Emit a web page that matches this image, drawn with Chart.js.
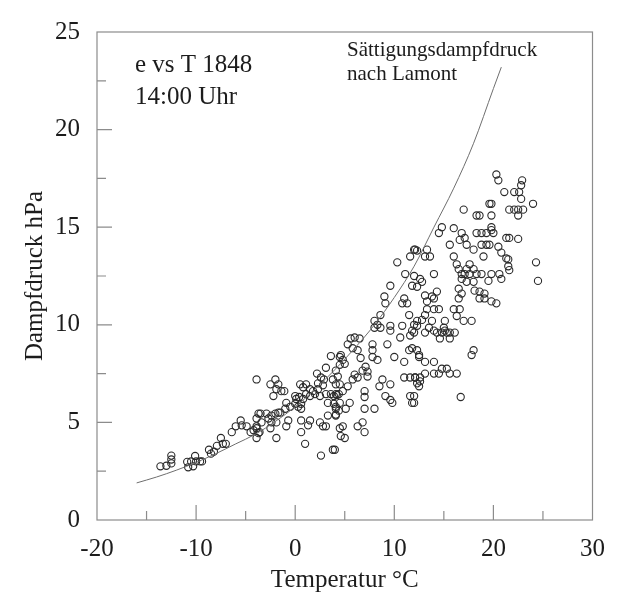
<!DOCTYPE html>
<html>
<head>
<meta charset="utf-8">
<script src="https://cdn.jsdelivr.net/npm/chart.js@4.4.0/dist/chart.umd.min.js"></script>
<style>
  html, body { margin: 0; padding: 0; background: #fff; }
  #wrap { width: 619px; height: 599px; }
</style>
</head>
<body>
<div id="wrap"><canvas id="chart" width="619" height="599"></canvas></div>
<script>
// axis ticks
const xTicks = [-20, -10, 0, 10, 20, 30];
const yTicks = [0, 5, 10, 15, 20, 25];
const xMinor = [-15, -5, 5, 15, 25];
const yMinor = [2.5, 7.5, 12.5, 17.5, 22.5];

// Saettigungsdampfdruck nach Lamont
const curveT = [-16, -14, -12, -10, -8, -6, -4, -2, 0, 2, 4, 6, 8, 10, 12, 14, 16, 18, 20, 20.8];
const curveE = [1.9, 2.2, 2.55, 2.95, 3.4, 3.9, 4.4, 5.05, 5.8, 6.7, 7.7, 8.8, 10.0, 11.4, 13.0, 15.0, 17.0, 19.3, 22.1, 23.2];

// observations 14:00 Uhr, 1848: temperature (°C)
const obsT = [
  -13.6, -13.0, -12.5, -12.5, -12.5, -10.9, -10.5, -10.1, -10.0, -9.6, -10.8, -10.3, -9.4, -8.7, -8.5, -8.2,
  -7.9, -7.5, -7.3, -7.0, -6.4, -6.0, -5.5, -5.4, -4.9, -4.5, -4.2, -3.9, -3.7, -3.9, -3.6, -3.9,
  3.6, 4.5, 3.1, 2.2, 2.6, 2.9, 2.3, 2.8, 3.8, 4.3, 4.1,
  -2.5, -2.0, -1.7, -1.9, -1.4, -1.1, -2.2,
  0.5, 0.8, 1.1, 1.5, 1.8, 2.3,
  0.0, 0.1, 0.4, 0.8, 0.6, 0.3, 0.6, 0.0,
  1.1, 1.5, 2.0, 2.5, 3.1, 3.6, 3.9, 4.4,
  3.3, 3.9, 4.5, 4.1, 4.4, -0.9, -0.5, -1.0,
  -1.7, -2.0, -2.4, -2.7, -2.9, -1.5, -3.5, -3.9, -3.4, -3.9, -3.7,
  -2.4, -1.9, -2.5, -0.7, -0.9, 0.6, 1.5, 1.3,
  0.6, 2.5, 2.8, 3.1, 3.3, 4.1, 4.5, 4.6, -1.9, 1.0, 3.8, 2.6,
  12.0, 11.6, 12.3, 10.3, 11.1, 12.6, 9.6, 11.8, 12.0,
  9.0, 9.1, 11.0, 10.8, 11.3, 8.6, 11.5, 12.3,
  8.0, 8.3, 8.0, 8.6, 9.6, 9.6, 10.8, 12.0, 11.8, 11.6,
  10.6, 5.6, 6.0, 6.5, 5.3, 5.8, 6.3, 7.8, 7.8, 9.3, 11.5, 12.3,
  4.6, 4.8, 7.8, 8.3, 10.0, 11.0, 12.5,
  6.6, 7.1, 6.8, 4.5, 5.0, 4.1, 6.0, 5.8, 6.3, 7.3, 7.3,
  8.8, 8.5, 9.6, 11.0, 11.6, 12.1, 12.6,
  4.5, 5.3, 4.8, 4.1, 4.2, 7.0, 7.0, 9.1, 9.8, 9.6, 11.6, 11.8,
  5.5, 5.1, 8.0, 7.0, 4.1, 4.1, 4.8, 6.3, 6.8, 7.0, 5.0, 4.0,
  20.3, 20.5, 22.9, 22.8, 22.6, 22.1, 21.1, 24.0, 22.8, 19.6, 19.8, 17.0, 18.3, 18.6, 19.8,
  21.6, 22.1, 22.5, 23.0, 22.5,
  14.8, 14.5, 16.0, 19.8, 16.8, 17.1, 18.3, 18.8, 19.3, 19.8, 20.0, 21.3, 21.6, 22.5,
  16.6, 17.3, 15.6, 18.8, 19.3, 19.6, 20.5, 18.0, 20.8, 21.3,
  13.3, 13.1, 13.6, 12.1, 16.0, 19.0, 21.5, 21.5, 21.6, 24.3,
  14.0, 16.3, 17.6, 16.5, 17.3, 18.0,
  16.8, 17.1, 17.6, 18.3, 18.8, 19.8, 20.6,
  16.8, 17.3, 18.0, 19.5, 20.8, 24.5,
  16.5, 16.8, 18.1, 18.6, 19.1, 14.3, 12.3, 12.8, 13.1, 13.8, 13.3, 19.8,
  14.0, 16.5, 18.6, 19.1, 20.3,
  13.3, 14.0, 14.5, 16.0, 16.6, 16.3, 13.1, 12.8,
  13.8, 15.1, 17.0, 17.8, 12.3, 13.5, 14.0, 15.0, 15.1,
  13.1, 14.3, 14.8, 15.3, 15.6, 16.1, 14.6, 15.6, 12.0,
  11.8, 12.5, 13.1, 14.0, 18.0, 17.8,
  13.1, 14.0, 14.5, 14.8, 15.3, 15.6, 16.3,
  12.1, 12.3, 12.6, 12.5, 12.0, 12.0, 16.7
];
// observations: vapour pressure (hPa)
const obsE = [
  2.75, 2.78, 3.3, 3.1, 2.9, 2.98, 3.0, 3.28, 3.0, 3.0, 2.7, 2.75, 3.0, 3.6, 3.4, 3.5,
  3.8, 4.2, 3.9, 3.9, 4.5, 4.8, 5.1, 4.85, 4.8, 4.5, 4.6, 4.8, 5.45, 4.2, 4.5, 7.2,
  8.4, 8.35, 7.8, 7.5, 7.3, 7.2, 7.0, 6.9, 7.2, 7.35, 6.95,
  6.95, 7.2, 6.95, 6.7, 6.6, 6.6, 6.35,
  6.95, 6.8, 6.95, 6.7, 6.6, 6.7,
  6.35, 6.2, 6.3, 6.2, 5.95, 5.8, 5.7, 5.95,
  6.45, 6.35, 6.45, 6.35, 6.45, 6.45, 6.35, 6.45,
  6.0, 5.95, 6.0, 5.7, 5.6, 6.0, 5.8, 5.7,
  5.5, 5.45, 5.35, 5.2, 5.45, 5.5, 5.45, 5.2, 5.0, 4.7, 4.45,
  5.0, 5.0, 4.7, 5.1, 4.8, 5.1, 5.1, 4.85,
  4.5, 5.0, 4.8, 4.8, 5.35, 5.35, 4.7, 4.3, 4.2, 3.9, 3.6, 3.3,
  13.85, 13.5, 13.8, 13.2, 12.6, 12.35, 12.0, 12.0, 12.5,
  11.45, 11.1, 11.35, 11.1, 11.1, 10.5, 10.5, 10.2,
  10.2, 10.0, 9.85, 9.85, 9.95, 9.7, 9.95, 10.0, 9.7, 9.45,
  9.35, 9.3, 9.35, 9.3, 9.0, 8.8, 8.7, 9.0, 8.7, 9.0, 8.7, 8.7,
  8.45, 8.2, 8.35, 8.2, 8.35, 8.1, 8.35,
  8.3, 7.85, 7.65, 7.95, 8.0, 7.65, 7.45, 7.2, 7.3, 7.6, 7.35,
  7.2, 6.85, 6.95, 7.3, 7.3, 7.3, 7.3,
  6.95, 6.85, 6.6, 6.45, 6.4, 6.6, 6.3, 6.35, 6.0, 6.15, 6.35, 6.0,
  6.0, 5.7, 5.7, 5.7, 5.8, 5.4, 4.8, 4.8, 5.0, 4.5, 4.2, 3.6,
  17.7, 17.4, 17.4, 17.15, 16.8, 16.8, 16.8, 16.2, 16.45, 16.2, 16.2, 15.9, 15.6, 15.6, 15.6,
  15.9, 15.9, 15.9, 15.9, 15.6,
  15.0, 14.7, 14.95, 15.0, 14.7, 14.45, 14.7, 14.7, 14.7, 14.85, 14.7, 14.45, 14.45, 14.4,
  14.35, 14.1, 14.1, 14.1, 14.1, 14.1, 14.0, 13.85, 13.7, 13.4,
  13.85, 13.5, 13.5, 13.85, 13.5, 13.5, 13.35, 13.0, 12.8, 13.2,
  12.6, 13.1, 13.1, 12.85, 12.85, 12.85,
  12.6, 12.6, 12.6, 12.6, 12.6, 12.6, 12.6,
  12.35, 12.2, 12.2, 12.25, 12.35, 12.25,
  11.85, 11.6, 11.75, 11.7, 11.6, 11.7, 11.95, 12.2, 11.5, 11.45, 11.2, 11.2,
  11.35, 11.35, 11.35, 11.35, 11.1,
  10.8, 10.8, 10.8, 10.8, 10.8, 10.45, 10.5, 10.25,
  10.2, 10.2, 10.2, 10.2, 9.95, 9.85, 9.7, 9.85, 9.7,
  9.6, 9.6, 9.6, 9.6, 9.6, 9.6, 9.3, 9.3, 9.6,
  8.8, 8.45, 8.1, 8.1, 8.7, 8.45,
  7.5, 7.5, 7.5, 7.75, 7.75, 7.5, 7.5,
  7.3, 7.0, 7.1, 6.85, 6.35, 6.0, 6.3
];

const serif = '"Liberation Serif", "Times New Roman", serif';
const textColor = '#1c1c1c';
const frameColor = '#8c8c8c';

// frame round the plot area plus inward tick marks (bottom and left)
const frameTicks = {
  id: 'frameTicks',
  afterDraw(chart) {
    const { ctx, chartArea: a, scales } = chart;
    ctx.save();
    ctx.strokeStyle = frameColor;
    ctx.lineWidth = 1.2;
    ctx.strokeRect(a.left, a.top, a.right - a.left, a.bottom - a.top);
    ctx.beginPath();
    xTicks.slice(1, -1).forEach(v => {
      const x = scales.x.getPixelForValue(v);
      ctx.moveTo(x, a.bottom); ctx.lineTo(x, a.bottom - 15);
    });
    xMinor.forEach(v => {
      const x = scales.x.getPixelForValue(v);
      ctx.moveTo(x, a.bottom); ctx.lineTo(x, a.bottom - 9);
    });
    yTicks.slice(1, -1).forEach(v => {
      const y = scales.y.getPixelForValue(v);
      ctx.moveTo(a.left, y); ctx.lineTo(a.left + 15, y);
    });
    yMinor.forEach(v => {
      const y = scales.y.getPixelForValue(v);
      ctx.moveTo(a.left, y); ctx.lineTo(a.left + 9, y);
    });
    ctx.stroke();
    ctx.restore();
  }
};

// the text labels inside the plot
const notes = {
  id: 'notes',
  afterDraw(chart) {
    const ctx = chart.ctx;
    ctx.save();
    ctx.fillStyle = textColor;
    ctx.textBaseline = 'middle';
    ctx.textAlign = 'left';
    ctx.font = '25px ' + serif;
    ctx.fillText('e vs T 1848', 135, 65);
    ctx.fillText('14:00 Uhr', 135, 97);
    ctx.font = '21px ' + serif;
    ctx.fillText('Sättigungsdampfdruck', 347, 50);
    ctx.fillText('nach Lamont', 347, 74);
    ctx.restore();
  }
};

const ctx = document.getElementById('chart').getContext('2d');
new Chart(ctx, {
  type: 'scatter',
  data: {
    datasets: [
      {
        type: 'line',
        data: curveT.map((t, i) => ({ x: t, y: curveE[i] })),
        borderColor: '#6e6e6e',
        borderWidth: 1,
        pointRadius: 0,
        cubicInterpolationMode: 'monotone',
        fill: false
      },
      {
        data: obsT.map((t, i) => ({ x: t, y: obsE[i] })),
        pointStyle: 'circle',
        pointRadius: 3.6,
        borderWidth: 1.1,
        borderColor: '#2a2a2a',
        backgroundColor: 'rgba(255,255,255,0)'
      }
    ]
  },
  options: {
    responsive: false,
    animation: false,
    layout: { padding: { top: 21, right: 22, left: 0, bottom: 0 } },
    plugins: { legend: { display: false }, tooltip: { enabled: false } },
    scales: {
      x: {
        type: 'linear',
        min: -20, max: 30,
        afterFit: s => { s.height = 79; },
        afterBuildTicks: s => { s.ticks = xTicks.map(v => ({ value: v })); },
        grid: { display: false, drawTicks: false },
        border: { display: false },
        ticks: { color: textColor, font: { family: serif, size: 25 }, padding: 14, maxRotation: 0 },
        title: { display: true, text: 'Temperatur °C', color: textColor,
                 font: { family: serif, size: 25 }, padding: { top: 0, bottom: 4 } }
      },
      y: {
        type: 'linear',
        min: 0, max: 25,
        afterFit: s => { s.width = 97; },
        afterBuildTicks: s => { s.ticks = yTicks.map(v => ({ value: v })); },
        grid: { display: false, drawTicks: false },
        border: { display: false },
        ticks: { color: textColor, font: { family: serif, size: 25 }, padding: 17 },
        title: { display: true, text: 'Dampfdruck hPa', color: textColor,
                 font: { family: serif, size: 25 }, padding: { top: 20, bottom: 0 } }
      }
    }
  },
  plugins: [frameTicks, notes]
});
</script>
</body>
</html>
